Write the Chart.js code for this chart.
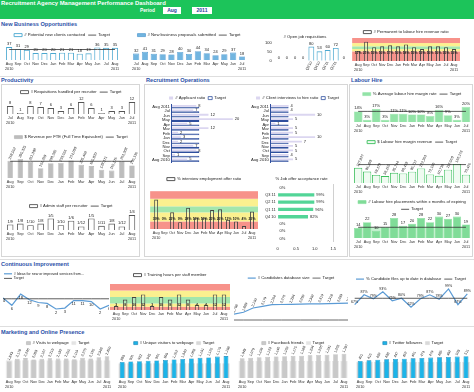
<!DOCTYPE html>
<html>
<head>
<meta charset="utf-8">
<title>Recruitment Agency Management Performance Dashboard</title>
<script src="https://cdn.jsdelivr.net/npm/chart.js@4.4.1/dist/chart.umd.min.js"></script>
<style>
  body { margin:0; width:474px; height:392px; overflow:hidden; background:#fff; position:relative;
         font-family:"Liberation Sans", Arial, sans-serif; }
  #hdr { position:absolute; left:0; top:0; width:474px; height:19px; background:#1cc45a; }
  #hdr .t { position:absolute; left:1px; top:0px; color:#fff; font-weight:bold; font-size:5.9px; white-space:nowrap; }
  #hdr .p { position:absolute; left:140px; top:8px; color:#fff; font-weight:bold; font-size:4.8px; }
  #hdr .v { position:absolute; top:7px; height:7px; background:#fff; color:#1f3f9a; font-weight:bold; font-size:5px; line-height:7px; text-align:center; }
  .sec { position:absolute; color:#2b50a8; font-weight:bold; font-size:5.6px; white-space:nowrap; }
  .panel { position:absolute; border:1px solid #d6d6d6; }
  .rule { position:absolute; left:0; width:474px; height:1px; background:#dedede; }
</style>
</head>
<body>
<div id="hdr">
  <div class="t">Recruitment Agency Management Performance Dashboard</div>
  <div class="p">Period</div>
  <div class="v" style="left:163px;width:18px">Aug</div>
  <div class="v" style="left:192px;width:20px">2011</div>
</div>
<div class="sec" style="left:1px;top:21px">New Business Opportunities</div>
<div class="rule" style="top:76px"></div>
<div class="sec" style="left:1px;top:77px">Productivity</div>
<div class="sec" style="left:146px;top:77px">Recruitment Operations</div>
<div class="sec" style="left:351px;top:77px">Labour Hire</div>
<div class="panel" style="left:1px;top:84px;width:137px;height:171px"></div>
<div class="panel" style="left:144px;top:84px;width:202px;height:171px"></div>
<div class="panel" style="left:349px;top:84px;width:122px;height:171px"></div>
<div class="rule" style="top:259px"></div>
<div class="sec" style="left:1px;top:261px">Continuous Improvement</div>
<div class="rule" style="top:326px"></div>
<div class="sec" style="left:1px;top:329px">Marketing and Online Presence</div>

<script>
// ---- data ----
const monthsAug = [['Aug','2010'],'Sep','Oct','Nov','Dec','Jan','Feb','Mar','Apr','May','Jun','Jul',['Aug','2011']];
const monthsJul = [['Jul','2010'],'Aug','Sep','Oct','Nov','Dec','Jan','Feb','Mar','Apr','May','Jun',['Jul','2011']];
const monthRows = ['Aug 2011','Jul','Jun','May','Apr','Mar','Feb','Jan','Dec','Nov','Oct','Sep','Aug 2010'];

// new business opportunities
const potentialClients = [37,31,29,20,20,20,21,21,18,19,36,35,35];
const potentialClientsTarget = 30;
const proposals = [32,41,31,29,28,40,30,44,34,24,29,37,18];
const openReqLabels = ['','','','',"Q3'10","Q4'10","Q1'11","Q2'11",''];
const openReqs = [0,0,0,0,80,53,60,72,0];
const permRatio = [11,21,15,16,17,16,18,15,13,16,16,15,13];
const permBands = [0,10.5,13,16,19.5,25];

// productivity
const reqsPerRecruiter = [8,1,8,7,6,3,6,12,6,1,3,3,12];
const revenuePerFTE = [268552,295325,251398,152259,230335,233556,274039,205468,185920,128171,115176,262308,195136];
const revenueTarget = 260000;
const adminText = ['1/9','1/8','1/10','1/8','1/5','1/10','1/6','1/12','1/5','1/11','1/8','1/12','1/4'];
const adminRatio = [0.111,0.125,0.1,0.125,0.2,0.1,0.167,0.083,0.2,0.091,0.125,0.083,0.25];

// recruitment operations
const applicantRatio = [8,7,12,20,5,12,2,3,2,7,8,1,5];
const applicantTarget = 9;
const clientInterview = [4,4,10,5,1,5,5,10,7,5,5,4,5];
const clientInterviewTarget = 4;
const interviewOffer = [39,0,22,9,28,15,15,25,26,12,10,4,23];
const interviewBands = [0,10,22,30,40,50];
const offerQuarters = ['','Q3 11','Q2 11','Q1 11','Q4 10','','',''];
const offerAcceptance = [0,0.99,0.99,0.96,0.82,0,0,0];

// labour hire
const avgMargin = [14,3,17,3,11,11,10,10,8,16,9,3,20];
const avgMarginTarget = 14;
const marginRevenue = [127827,96209,68179,58165,85744,80419,95717,122363,72160,60738,112569,160173,70426];
const marginRevenueTarget = 155000;
const placements = [14,22,10,15,28,17,20,28,22,30,27,30,19];
const placementsTarget = 15;

// continuous improvement
const ideas = [14,6,18,12,9,8,2,3,11,11,10,2,6];
const ideasTarget = 13;
const training = [3,8,10,12,3,10,8,12,8,4,4,12,12];
const trainingBands = [0,2.5,5,10,15,20];
const candidatesDB = [1798,1889,2100,2179,2264,2276,2284,2290,2302,2310,2318,2330,2346];
const candidatesTarget = 1500;
const candidateFiles = [67,87,79,93,75,80,62,79,87,78,99,67,89];
const candidateFilesTarget = 80;

// marketing
const visits = [1843,2178,2246,2093,2167,2219,2182,2201,2110,2275,2195,2348,2450];
const visitsTarget = 2000;
const uniqueVisitors = [880,901,922,945,961,990,1012,1040,1068,1101,1125,1170,1198];
const uniqueTarget = 800;
const facebook = [1048,1079,1106,1123,1146,1160,1175,1188,1204,1226,1241,1265,1287];
const facebookTarget = 900;
const twitter = [401,415,430,438,447,452,461,470,479,485,492,503,511];
const twitterTarget = 380;

const bandColours = ['#f7928a','#fbf08f','#a3e6ad','#fbf08f','#f7928a'];

// ---- plugins ----
const valueLabels = {
  id: 'valueLabels',
  afterDatasetsDraw(chart) {
    const ctx = chart.ctx;
    chart.data.datasets.forEach((ds, di) => {
      const o = ds.vl;
      if (!o) return;
      const meta = chart.getDatasetMeta(di);
      ctx.save();
      ctx.font = (o.bold ? 'bold ' : '') + (o.size || 4) + 'px "Liberation Sans", Arial, sans-serif';
      ctx.fillStyle = o.color || '#222';
      meta.data.forEach((el, i) => {
        const t = o.text[i];
        if (t === '' || t == null) return;
        let x = el.x, y = el.y;
        if (o.at != null) y = chart.scales.y.getPixelForValue(o.at);
        if (o.rot) {
          ctx.save();
          ctx.translate(x - 0.5, y - 1.5);
          ctx.rotate(o.rot * Math.PI / 180);
          ctx.textAlign = 'left'; ctx.textBaseline = 'middle';
          ctx.fillText(t, 0, 0);
          ctx.restore();
          return;
        }
        if (o.pos === 'right') {
          ctx.textAlign = 'left'; ctx.textBaseline = 'middle';
          ctx.fillText(t, x + 2, y);
          return;
        }
        ctx.textAlign = 'center';
        if (o.pos === 'below') { ctx.textBaseline = 'top'; ctx.fillText(t, x, y + 1.5); }
        else if (o.at != null) { ctx.textBaseline = 'middle'; ctx.fillText(t, x, y); }
        else { ctx.textBaseline = 'bottom'; ctx.fillText(t, x, y - 1); }
      });
      ctx.restore();
    });
  }
};

const bands = {
  id: 'bands',
  beforeDatasetsDraw(chart) {
    const b = chart.data.bands;
    if (!b) return;
    const { ctx, chartArea: a, scales: { y } } = chart;
    ctx.save();
    for (let i = 0; i < b.colors.length; i++) {
      const top = y.getPixelForValue(b.edges[i + 1]);
      const bot = y.getPixelForValue(b.edges[i]);
      ctx.fillStyle = b.colors[i];
      ctx.fillRect(a.left - 2, top, a.right - a.left + 4, bot - top);
    }
    ctx.restore();
  }
};

Chart.register(valueLabels, bands);
Chart.defaults.font.family = '"Liberation Sans", Arial, sans-serif';
Chart.defaults.font.size = 4;
Chart.defaults.color = '#222';

// ---- helpers ----
function make(box, cfg) {
  const c = document.createElement('canvas');
  c.width = box[2]; c.height = box[3];
  c.style.cssText = `position:absolute;left:${box[0]}px;top:${box[1]}px;width:${box[2]}px;height:${box[3]}px`;
  document.body.appendChild(c);
  cfg.options = Object.assign({ responsive: false, animation: false, events: [], layout: { padding: 0 } }, cfg.options || {});
  cfg.options.plugins = Object.assign({ tooltip: { enabled: false } }, cfg.options.plugins || {});
  return new Chart(c.getContext('2d'), cfg);
}

// chart.js adds 10px under every legend; maxHeight keeps it tight (lh = room kept above the plot)
const legend = (o = {}) => ({
  display: true, position: 'top', align: o.align || 'center', maxHeight: o.lh || 9,
  labels: {
    usePointStyle: true, pointStyleWidth: o.sw || 8, boxHeight: 3, padding: o.pad != null ? o.pad : 3,
    font: { size: o.size || 4.2 }, color: '#222',
    filter: item => item.text !== '',
    sort: (a, b) => a.datasetIndex - b.datasetIndex
  }
});
const title = (text, top = 1, bottom = 3) => ({
  display: true, text, color: '#222', font: { size: 4.2, weight: 'normal' }, padding: { top, bottom }
});
const noGrid = { display: false, drawTicks: false };
const xMonths = () => ({
  grid: noGrid, border: { display: false },
  afterFit: s => { s.height = 11; },
  ticks: { autoSkip: false, maxRotation: 0, minRotation: 0, padding: 2, font: { size: 3.8 }, color: '#333' }
});
const yOff = (min, max) => ({ display: false, min, max });

const hollow = (label, data, color, extra = {}) => Object.assign({
  type: 'bar', label, data, backgroundColor: 'rgba(255,255,255,0.15)', borderColor: color, borderWidth: 0.9,
  pointStyle: 'rect', order: 1, barPercentage: 0.72, categoryPercentage: 0.9
}, extra);
const filled = (label, data, fill, border, extra = {}) => Object.assign({
  type: 'bar', label, data, backgroundColor: fill, borderColor: border, borderWidth: 0.6,
  pointStyle: 'rect', order: 1, barPercentage: 0.72, categoryPercentage: 0.9
}, extra);
const line = (label, data, color, width, extra = {}) => Object.assign({
  type: 'line', label, data, borderColor: color, backgroundColor: color, borderWidth: width,
  pointRadius: 0, pointStyle: 'line', order: 0, tension: 0, fill: false
}, extra);
const flat = (n, v) => Array(n).fill(v);
const pct = arr => arr.map(v => v + '%');
const num = arr => arr.map(v => v.toLocaleString('en-US'));

// ---- New Business Opportunities ----
make([3, 30, 118, 41], {
  type: 'bar',
  data: { labels: monthsAug, datasets: [
    hollow('# Potential new clients contacted', potentialClients, '#4aa8d0', { barPercentage: 0.78, vl: { text: potentialClients.map(String) } }),
    line('Target', flat(13, potentialClientsTarget), '#333', 0.8)
  ]},
  options: { plugins: { legend: legend() }, scales: { x: xMonths(), y: yOff(0, 60) } }
});

make([130, 30, 118, 41], {
  type: 'bar',
  data: { labels: monthsJul, datasets: [
    filled('# New business proposals submitted', proposals, '#72b5e0', '#3d8bc9', { barPercentage: 0.78, vl: { text: proposals.map(String) } }),
    line('Target', [], '#333', 0.8)
  ]},
  options: { plugins: { legend: legend() }, scales: { x: xMonths(), y: yOff(0, 105) } }
});

make([262, 33, 86, 38], {
  type: 'bar',
  data: { labels: openReqLabels, datasets: [
    hollow('# Open job requisitions', openReqs, '#4aa8d0', { barPercentage: 0.8, vl: { text: openReqs.map(String) } })
  ]},
  options: {
    plugins: { legend: { display: false }, title: title('# Open job requisitions', 1, 4) },
    scales: {
      x: { grid: noGrid, border: { display: false },
           ticks: { autoSkip: false, maxRotation: 60, minRotation: 60, padding: 0, font: { size: 3.6 } } },
      y: { min: 0, max: 100, grid: noGrid, border: { display: false },
           ticks: { stepSize: 50, padding: 3, font: { size: 4 } } }
    }
  }
});

make([352, 27, 108, 45], {
  type: 'bar',
  data: { labels: monthsAug, bands: { edges: permBands, colors: bandColours }, datasets: [
    hollow('# Permanent to labour hire revenue ratio', permRatio, '#444',
      { barPercentage: 0.55, vl: { text: pct(permRatio), at: 8.5, bold: true, size: 3.4 } })
  ]},
  options: { plugins: { legend: legend({ lh: 11 }) }, scales: { x: xMonths(), y: yOff(0, 25) } }
});

// ---- Productivity ----
make([4, 87, 134, 38], {
  type: 'bar',
  data: { labels: monthsJul, datasets: [
    hollow('# Requisitions handled per recruiter', reqsPerRecruiter, '#555', { vl: { text: reqsPerRecruiter.map(String) } }),
    line('Target', [], '#333', 0.8)
  ]},
  options: { plugins: { legend: legend({ lh: 11 }) }, scales: { x: xMonths(), y: yOff(0, 16) } }
});

make([4, 132, 134, 57], {
  type: 'bar',
  data: { labels: monthsAug, datasets: [
    filled('$ Revenue per FTE (Full Time Equivalent)', revenuePerFTE, '#bdbdbd', '#b0b0b0',
      { barPercentage: 0.6, vl: { text: num(revenuePerFTE), rot: -65, size: 3.6 } }),
    line('Target', flat(13, revenueTarget), '#333', 0.8)
  ]},
  options: { plugins: { legend: legend({ lh: 10 }) }, scales: { x: xMonths(), y: yOff(0, 560000) } }
});

make([4, 201, 134, 40], {
  type: 'bar',
  data: { labels: monthsAug, datasets: [
    hollow('# Admin staff per recruiter', adminRatio, '#555', { vl: { text: adminText } }),
    line('Target', [], '#333', 0.8)
  ]},
  options: { plugins: { legend: legend() }, scales: { x: xMonths(), y: yOff(0.03, 0.323) } }
});

// ---- Recruitment Operations ----
function rowChart(box, label, data, target, max) {
  return make(box, {
    type: 'bar',
    data: { labels: monthRows, datasets: [
      { label, data, backgroundColor: '#dbd6f0', borderWidth: 0, pointStyle: 'rect',
        barPercentage: 1, categoryPercentage: 0.8, vl: { text: data.map(String), pos: 'right' } },
      { label: 'Target', data: flat(data.length, target), backgroundColor: 'rgba(255,255,255,0)',
        borderColor: '#2f4f9e', borderWidth: 0.8, pointStyle: 'rect', barPercentage: 1, categoryPercentage: 0.8 }
    ]},
    options: {
      indexAxis: 'y',
      plugins: { legend: legend({ sw: 4, lh: 11.5 }) },
      scales: {
        x: { display: false, min: 0, max },
        y: { grid: noGrid, border: { color: '#2f4f9e' },
             ticks: { autoSkip: false, padding: 2, font: { size: 4.2 } } }
      }
    }
  });
}
rowChart([150, 93, 95, 74], '# Applicant ratio', applicantRatio, applicantTarget, 24);
rowChart([249, 93, 97, 74], '# Client interviews to hire ratio', clientInterview, clientInterviewTarget, 17);

make([150, 174, 108, 66], {
  type: 'bar',
  data: { labels: monthsAug, bands: { edges: interviewBands, colors: bandColours }, datasets: [
    hollow('% interview employment offer ratio', interviewOffer, '#444',
      { barPercentage: 0.55, vl: { text: pct(interviewOffer), at: 13, bold: true, size: 3.4 } })
  ]},
  options: { plugins: { legend: legend({ lh: 19 }) }, scales: { x: xMonths(), y: yOff(0, 50) } }
});

make([263, 174, 77, 81], {
  type: 'bar',
  data: { labels: offerQuarters, datasets: [
    { label: '% Job offer acceptance rate', data: offerAcceptance, backgroundColor: '#52d597', borderWidth: 0,
      barPercentage: 0.45, categoryPercentage: 1, vl: { text: offerAcceptance.map(v => Math.round(v * 100) + '%'), pos: 'right' } }
  ]},
  options: {
    indexAxis: 'y',
    plugins: { legend: { display: false }, title: title('% Job offer acceptance rate', 2.5, 2.5) },
    scales: {
      x: { min: 0, max: 1.5, border: { display: false },
           grid: { drawTicks: false, color: c => c.tick && c.tick.value === 1.5 ? '#d0d0d0' : 'rgba(0,0,0,0)' },
           ticks: { stepSize: 0.5, padding: 4, font: { size: 4 } } },
      y: { grid: noGrid, border: { display: false },
           ticks: { autoSkip: false, padding: 2, font: { size: 3.9 } } }
    }
  }
});

// ---- Labour Hire ----
make([352, 89, 120, 44], {
  type: 'bar',
  data: { labels: monthsJul, datasets: [
    filled('% Average labour hire margin rate', avgMargin, '#93e3a7', '#93e3a7',
      { barPercentage: 1, categoryPercentage: 0.97, vl: { text: pct(avgMargin) } }),
    line('Target', flat(13, avgMarginTarget), '#333', 0.8)
  ]},
  options: { plugins: { legend: legend({ lh: 11 }) }, scales: { x: xMonths(), y: yOff(0, 29) } }
});

make([352, 137, 120, 57], {
  type: 'bar',
  data: { labels: monthsJul, datasets: [
    hollow('$ Labour hire margin revenue', marginRevenue, '#3bbf5c',
      { backgroundColor: '#effbf1', barPercentage: 0.95, categoryPercentage: 0.97, vl: { text: num(marginRevenue), rot: -65, size: 3.6 } }),
    line('Target', flat(13, marginRevenueTarget), '#333', 0.8)
  ]},
  options: { plugins: { legend: legend({ lh: 10 }) }, scales: { x: xMonths(), y: yOff(0, 303000) } }
});

make([352, 197, 120, 52], {
  type: 'bar',
  data: { labels: monthsJul, datasets: [
    filled('# Labour hire placements within x months of expiring', placements, '#80dc98', '#80dc98',
      { barPercentage: 0.95, categoryPercentage: 0.97, vl: { text: placements.map(String) } }),
    line('Target', flat(13, placementsTarget), '#333', 0.8),
    line('', flat(13, placementsTarget), '#c6f1d0', 0, { fill: 'origin', backgroundColor: '#c6f1d0', order: 2 })
  ]},
  options: { plugins: { legend: legend({ lh: 17.4 }) }, scales: { x: xMonths(), y: yOff(0, 33) } }
});

// ---- Continuous Improvement ----
make([3, 271, 106, 51], {
  type: 'line',
  data: { labels: monthsAug, datasets: [
    line('# Ideas for new or improved services from...', ideas, '#5b9bd5', 1.2, { order: 1, vl: { text: ideas.map(String), pos: 'below' } }),
    line('Target\u2003\u2003\u2003\u2003\u2003\u2003\u2003\u2003', flat(13, ideasTarget), '#333', 0.8)
  ]},
  options: { plugins: { legend: legend({ align: 'start', pad: 1, size: 3.6, lh: 12 }) },
             scales: { x: { display: false }, y: yOff(-12, 30) } }
});

make([110, 270, 120, 51], {
  type: 'bar',
  data: { labels: monthsAug, bands: { edges: trainingBands, colors: bandColours }, datasets: [
    hollow('# Training hours per staff member', training, '#444',
      { barPercentage: 0.55, vl: { text: training.map(String), at: 4, bold: true, size: 3.4 } })
  ]},
  options: { plugins: { legend: legend({ lh: 14 }) }, scales: { x: xMonths(), y: yOff(0, 20) } }
});

make([234, 273, 114, 50], {
  type: 'line',
  data: { labels: monthsAug, datasets: [
    line('# Candidates database size', candidatesDB, '#5b9bd5', 1.2, { order: 1, vl: { text: num(candidatesDB), rot: -65, size: 3.5 } }),
    line('Target', flat(13, candidatesTarget), '#444', 0.8)
  ]},
  options: { plugins: { legend: legend() }, scales: { x: { display: false }, y: yOff(1350, 3400) } }
});

make([350, 274, 122, 42], {
  type: 'line',
  data: { labels: monthsAug, datasets: [
    line('% Candidate files up to date in database', candidateFiles, '#5b9bd5', 1.2, { order: 1, vl: { text: pct(candidateFiles), size: 3.6 } }),
    line('Target', flat(13, candidateFilesTarget), '#333', 0.8)
  ]},
  options: { plugins: { legend: legend() }, scales: { x: { display: false, offset: true }, y: yOff(44, 111) } }
});

// ---- Marketing and Online Presence ----
function webChart(box, label, data, target, max, fill, border, backFill) {
  return make(box, {
    type: 'bar',
    data: { labels: monthsAug, datasets: [
      filled(label, data, fill, border, { grouped: false, barPercentage: 0.62, vl: { text: num(data), rot: -65, size: 3.5 } }),
      filled('Target', flat(data.length, target), backFill, backFill, { grouped: false, barPercentage: 0.95, order: 2 })
    ]},
    options: { plugins: { legend: legend({ sw: 4, lh: 8 }) }, scales: { x: xMonths(), y: yOff(0, max) } }
  });
}
webChart([3, 338, 110, 51], '# Visits to webpage', visits, visitsTarget, 3600, '#c9c9c9', '#b5b5b5', '#e4e4e4');
webChart([116, 338, 116, 51], '# Unique visitors to webpage', uniqueVisitors, uniqueTarget, 1750, '#1db4e8', '#127fb0', '#d9d9d9');
webChart([236, 338, 114, 51], '# Facebook friends', facebook, facebookTarget, 1700, '#c9c9c9', '#b5b5b5', '#e4e4e4');
webChart([354, 338, 118, 51], '# Twitter followers', twitter, twitterTarget, 750, '#1db4e8', '#127fb0', '#d9d9d9');
</script>
</body>
</html>
